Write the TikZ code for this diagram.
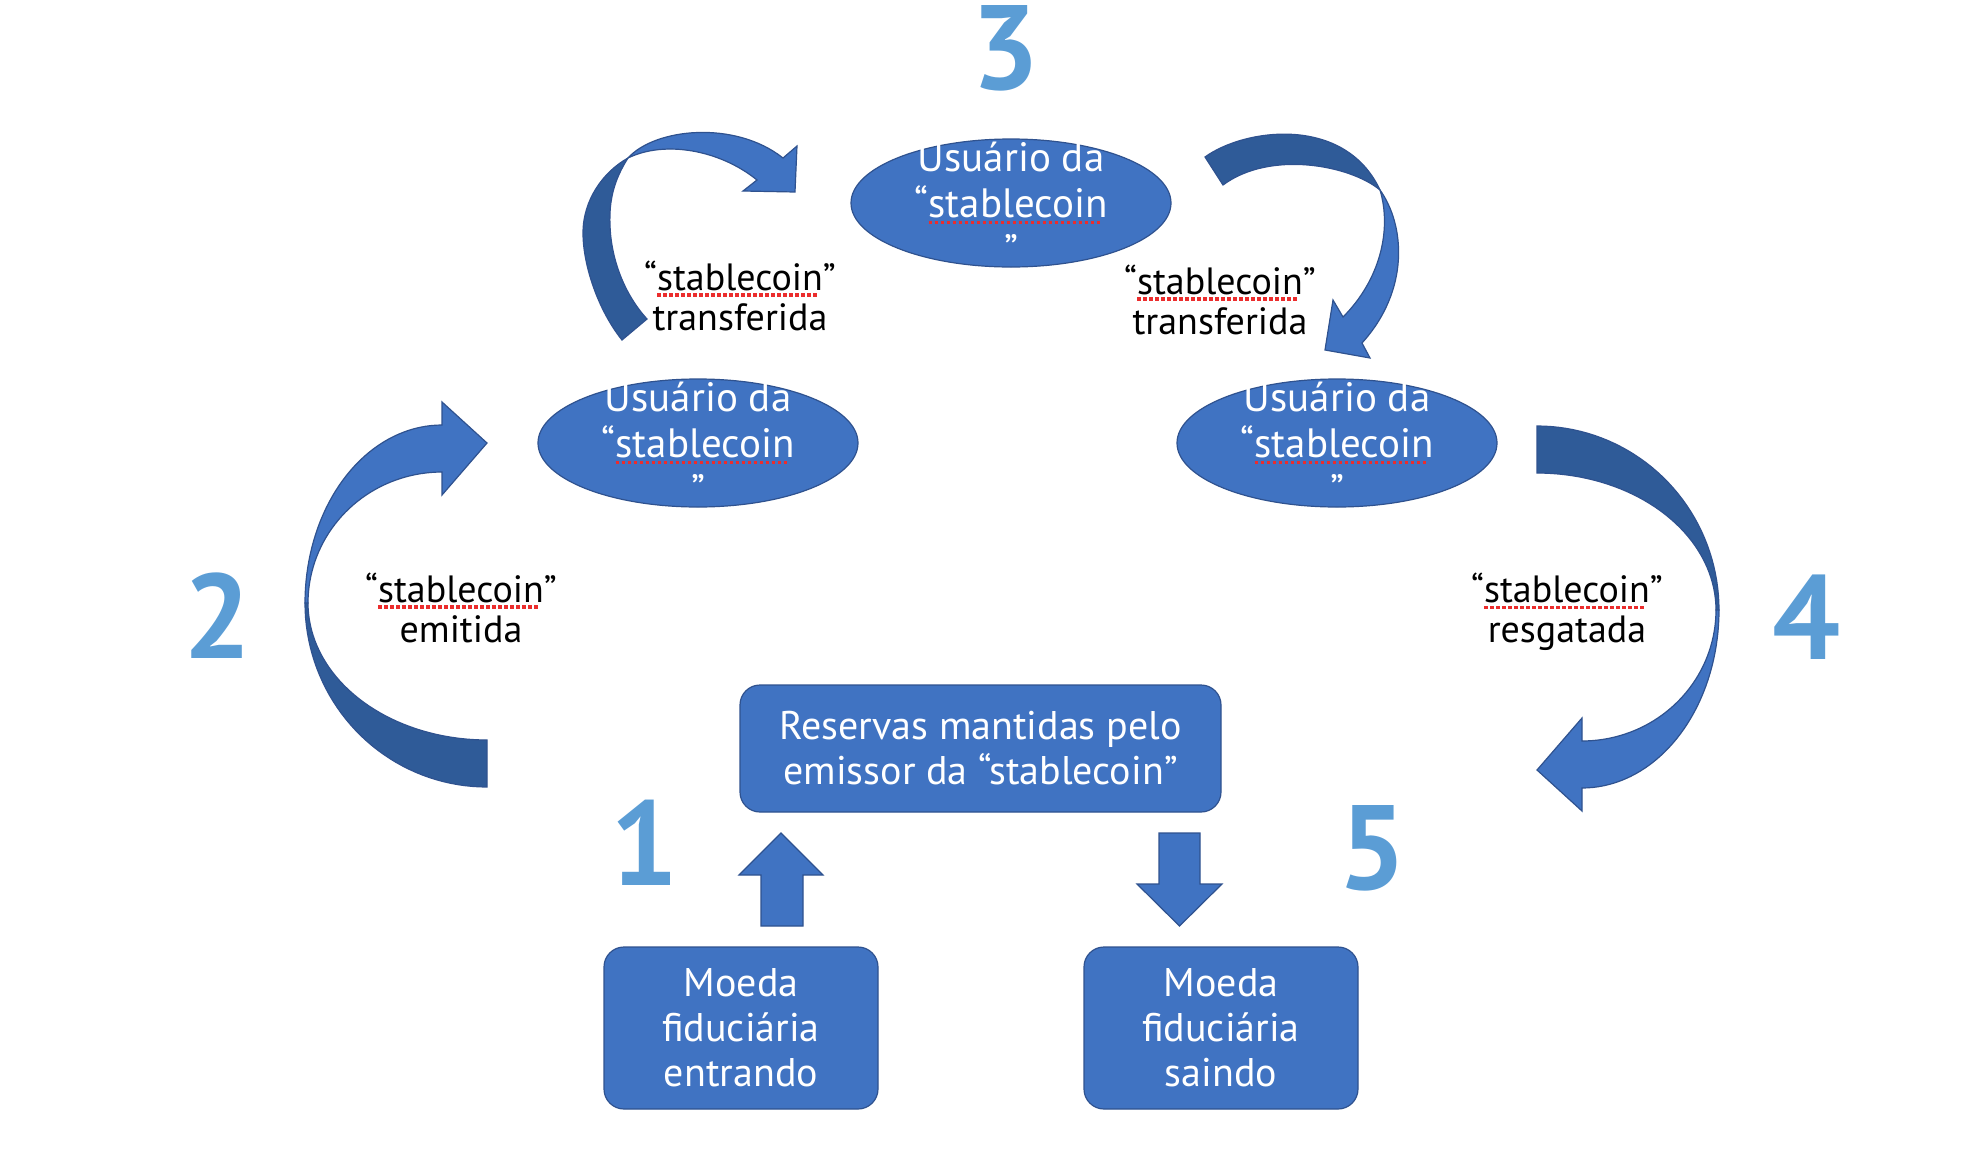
\documentclass[tikz,border=0pt]{standalone}
\usepackage{fontspec}
\setmainfont{PT Sans}
\usetikzlibrary{shapes.geometric}
\definecolor{boxblue}{RGB}{64,115,194}
\definecolor{darkblue}{RGB}{47,91,152}
\definecolor{edgeblue}{RGB}{47,82,143}
\definecolor{digitblue}{RGB}{91,157,213}
\definecolor{spellred}{RGB}{235,45,45}
\newsavebox\spellbox
\newcommand\spell[1]{\sbox\spellbox{#1}\rlap{\usebox\spellbox}%
  \raisebox{-3pt}{\textcolor{spellred}{\hbox to \wd\spellbox{\leaders\hbox{\rule{1.8pt}{1.6pt}\kern1.2pt}\hfill}}}}

\begin{document}
\begin{tikzpicture}[x=0.5pt, y=-0.5pt,
    holder/.style ={ellipse, draw=edgeblue, line width=0.6pt, fill=boxblue,
      minimum width=160pt, minimum height=64pt, inner sep=0pt},
    holdertext/.style ={text=white, align=center, font=\fontsize{20.5}{23}\selectfont},
    reserve/.style ={rectangle, rounded corners=10pt, draw=edgeblue, line width=0.6pt,
      fill=boxblue, text=white, align=center, font=\fontsize{20}{22.5}\selectfont, inner sep=0pt},
    flowlabel/.style ={align=center, font=\fontsize{19}{20}\selectfont},
    stepnum/.style ={text=digitblue, font=\fontsize{60}{60}\selectfont\bfseries},
    bandfront/.style ={fill=boxblue, draw=edgeblue, line width=0.6pt},
    bandback/.style ={fill=darkblue, draw=edgeblue, line width=0.6pt}]
   \useasboundingbox (0,0) rectangle (1978,1152);

   \foreach \turn in {0,180} {
     \begin{scope}[rotate around={\turn:(1012,606.5)}]
       \path[bandback] plot[domain=90:180, samples=40] ({487+182*cos(\x)},{603+184*sin(\x)})
         -- plot[domain=180:90, samples=40] ({487+179*cos(\x)},{603+137*sin(\x)}) -- cycle;
       \path[bandfront] plot[domain=180:270, samples=40] ({442+137*cos(\x)},{603+178*sin(\x)})
         -- (442,402) -- (487,443) -- (442,495)
         -- plot[domain=270:180, samples=40] ({442+134*cos(\x)},{603+131*sin(\x)}) -- cycle;
     \end{scope}
   }

   \path[bandback] (622,340) .. controls (598,310) and (583,265) .. (583,233)
     .. controls (583,200) and (603,172) .. (628,158)
     .. controls (614,180) and (609,200) .. (610,225)
     .. controls (611,260) and (625,295) .. (647,319) -- cycle;
   \path[bandfront] (628,158) .. controls (655,128) and (735,120) .. (783,158)
     -- (797,146) -- (795,192) -- (743,191) -- (757,180)
     .. controls (720,150) and (665,140) .. (628,158) -- cycle;

   \path[bandback] (1205,157) .. controls (1245,128) and (1345,115) .. (1380,190)
     .. controls (1350,165) and (1270,150) .. (1223,185) -- cycle;
   \path[bandfront] (1380,190) .. controls (1405,225) and (1410,290) .. (1362,343)
     -- (1370,358) -- (1325,350) -- (1333,300) -- (1343,317)
     .. controls (1380,280) and (1392,230) .. (1380,190) -- cycle;

   \path[bandfront] (761,926) -- (761,875) -- (739,875) -- (781,833) -- (823,875)
     -- (803,875) -- (803,926) -- cycle;
   \path[bandfront] (1159,833) -- (1200,833) -- (1200,884) -- (1222,884)
     -- (1179.5,926) -- (1137,884) -- (1159,884) -- cycle;

   \node[holder] (u1) at (698,443) {};
   \node[holdertext] (t1) at (u1) {Usuário da\\“\spell{stablecoin}\\”};
   \node[holder] (u2) at (1011,203) {};
   \node[holdertext] (t2) at (u2) {Usuário da\\“\spell{stablecoin}\\”};
   \node[holder] (u3) at (1337,443) {};
   \node[holdertext] (t3) at (u3) {Usuário da\\“\spell{stablecoin}\\”};

   \node[reserve, minimum width=240.5pt, minimum height=63.5pt] (res) at (980.5,748.5)
     {Reservas mantidas pelo\\emissor da “stablecoin”};
   \node[reserve, minimum width=137pt, minimum height=81pt] (fin) at (741,1028)
     {Moeda\\fiduciária\\entrando};
   \node[reserve, minimum width=137pt, minimum height=81pt] (fout) at (1221,1028)
     {Moeda\\fiduciária\\saindo};

   \node[flowlabel] (l1) at (740,296) {“\spell{stablecoin}”\\transferida};
   \node[flowlabel] (l2) at (1220,300) {“\spell{stablecoin}”\\transferida};
   \node[flowlabel] (l3) at (461,608) {“\spell{stablecoin}”\\emitida};
   \node[flowlabel] (l4) at (1567,612) {“\spell{stablecoin}”\\resgatada};

   \node[stepnum] (n1) at (645,843) {1};
   \node[stepnum] (n2) at (218,616) {2};
   \node[stepnum] (n3) at (1006,48) {3};
   \node[stepnum] (n4) at (1807,617) {4};
   \node[stepnum] (n5) at (1373,848) {5};
 \end{tikzpicture}
\end{document}
